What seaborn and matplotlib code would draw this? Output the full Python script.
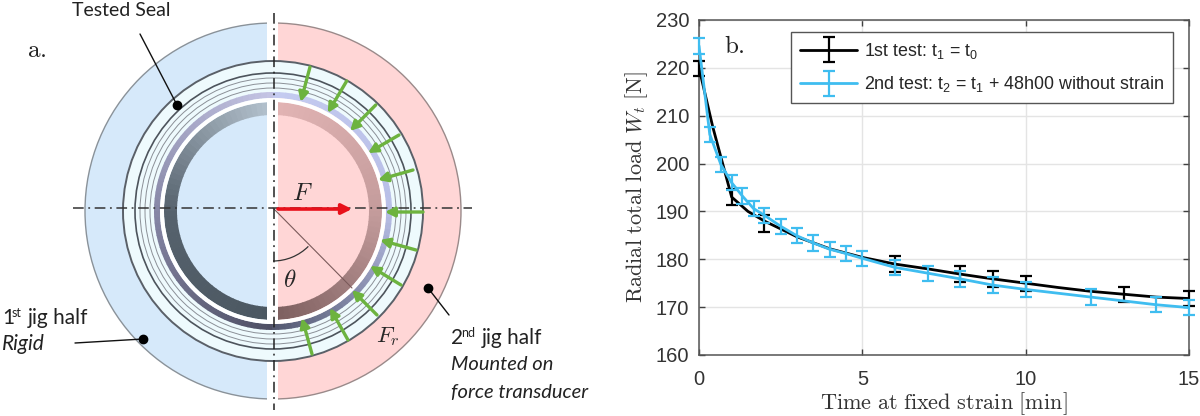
import numpy as np
import pandas as pd
import matplotlib
matplotlib.use('Agg')
import matplotlib.pyplot as plt
from matplotlib.colors import LinearSegmentedColormap
from matplotlib.container import ErrorbarContainer
from matplotlib.legend_handler import HandlerErrorbar
from matplotlib.patches import Wedge, Circle, Rectangle, Arc
import seaborn as sns

# measured values, panel b
test1_curve_time = [0, 0.42, 1, 1.5, 2, 3, 4, 5, 6, 7, 8, 9, 10, 11, 12, 13, 14, 15]
test1_curve_load = [220, 207.7, 193, 190, 188, 184.7, 182.2, 180.4, 179, 178, 176.9, 175.9, 175, 174.1, 173.3, 172.7, 172.1, 171.8]
test1_bar_time = [0, 1, 2, 6, 8, 9, 10, 13, 15]
test1_bar_load = [219.9, 193, 187.5, 179, 176.9, 175.9, 175, 172.7, 171.8]
test1_bar_err = [1.6, 1.6, 1.7, 1.6, 1.6, 1.6, 1.6, 1.6, 1.6]

test2_time = [0, 0.33, 0.67, 1, 1.33, 1.67, 2, 2.5, 3, 3.5, 4, 4.5, 5, 6, 7, 8, 9, 10, 12, 14, 15]
test2_load = [224.6, 206.1, 199.8, 196, 193.2, 190.6, 189.2, 186.9, 184.9, 183.4, 182.1, 181.2, 180.2, 178.3, 177.1, 175.9, 174.6, 173.7, 172.1, 170.5, 169.9]
test2_err = [1.6] * len(test2_time)

x_ticks = [0, 5, 10, 15]
y_ticks = [160, 170, 180, 190, 200, 210, 220, 230]

# schematic geometry, panel a (pixel coordinates of the figure)
seal_lines = [133, 128, 123]
green_arrows = [
    (310, 67, 300.7, 102), (346.7, 81, 327.7, 113), (375.7, 105, 350, 131),
    (399, 135, 368, 153), (413, 170, 378, 180), (423, 212, 385, 212),
    (416, 250, 380, 240), (401, 285, 370, 266), (377, 315, 352, 290),
    (348, 340, 330, 308), (312, 354, 302, 318),
]

BLUE = '#3fbdf0'
CX, CY = 273, 211

sns.set_style('white')
plt.rcParams['font.family'] = ['Liberation Sans', 'DejaVu Sans']
plt.rcParams['mathtext.fontset'] = 'custom'
plt.rcParams['mathtext.rm'] = 'Liberation Sans'
plt.rcParams['mathtext.it'] = 'Liberation Sans:italic'

fig = plt.figure(figsize=(12, 4.16), dpi=100)

# ---- panel a
sk = fig.add_axes([0, 0, 1, 1])
sk.set_xlim(0, 1200)
sk.set_ylim(416, 0)
sk.axis('off')


def half_wedge(r, theta1, theta2, width, color, clip=None, z=1, edge='none', lw=0):
    w = Wedge((CX, CY), r, theta1, theta2, width=width, facecolor=color, edgecolor=edge, linewidth=lw, zorder=z)
    sk.add_patch(w)
    if clip is not None:
        w.set_clip_path(Rectangle((clip[0], 0), clip[1] - clip[0], 416, transform=sk.transData))
    return w


def shaded_ring(r, width, start, stop, colors, clip=None, z=3):
    # ring drawn piece by piece so the shading runs round it
    cmap = LinearSegmentedColormap.from_list('ring', colors)
    angles = np.arange(start, stop, 3)
    for i, a in enumerate(angles):
        half_wedge(r, a, a + 3.4, width, cmap(i / max(len(angles) - 1, 1)), clip=clip, z=z)


# y axis points down in pixel coords, so angles run clockwise on screen
half_wedge(188, 90, 270, None, '#d6e9fa', clip=(0, 267), edge='#8a9299', lw=1)
half_wedge(188, -90, 90, None, '#ffd6d6', clip=(278, 1200), edge='#9a8a8a', lw=1)

shaded_ring(109, 13, 90, 270, ['#4b5761', '#56626d', '#b4c2ce'], clip=(0, 267))
shaded_ring(109, 13, -90, 90, ['#e2b4b4', '#c49c9c', '#7d5f5f'], clip=(278, 1200))

# seal
half_wedge(150, 0, 360, 37, '#eefafd', z=4)
for r in seal_lines:
    sk.add_patch(Circle((CX, CY), r, fill=False, edgecolor='#8b9097', linewidth=0.7, zorder=5))
sk.add_patch(Circle((CX, CY), 150, fill=False, edgecolor='#5a6068', linewidth=1.4, zorder=5))
sk.add_patch(Circle((CX, CY), 138, fill=False, edgecolor='#4d545c', linewidth=1.2, zorder=5))
shaded_ring(119, 6, 90, 270, ['#4e4f64', '#8787a6', '#c4c4e4'], z=5)
shaded_ring(119, 6, -90, 90, ['#c4cbf0', '#b8bee6', '#555a72'], z=5)
half_wedge(113, 0, 360, 4, '#ffffff', z=5)

sk.plot([273.5, 273.5], [13, 410], color='#222222', lw=1.1, ls=(0, (7, 3, 1.2, 3)), zorder=7)
sk.plot([73, 472], [208, 208], color='#333333', lw=1.1, ls=(0, (7, 3, 1.2, 3)), zorder=7)

sk.plot([273, 352], [208, 288], color='#7a5a5a', lw=0.8, zorder=6)
sk.add_patch(Arc((273, 211), 100, 100, angle=0, theta1=45, theta2=90, color='#333333', lw=0.9, zorder=6))

for x0, y0, x1, y1 in green_arrows:
    sk.annotate('', xy=(x1, y1), xytext=(x0, y0), zorder=8,
                arrowprops=dict(arrowstyle='-|>,head_width=0.28,head_length=0.55', color='#6db33f', lw=2.4,
                                shrinkA=0, shrinkB=0))
sk.annotate('', xy=(352, 209), xytext=(278, 209), zorder=8,
            arrowprops=dict(arrowstyle='-|>,head_width=0.3,head_length=0.6', color='#e8101a', lw=2.6,
                            shrinkA=0, shrinkB=0))

# leaders
for x0, y0, x1, y1 in [(140, 34, 177, 105), (75, 343, 143, 339), (449, 315, 428, 288)]:
    sk.plot([x0, x1], [y0, y1], color='#111111', lw=1, zorder=8)
    sk.plot([x1], [y1], 'o', color='black', ms=6, zorder=9)

sans = ['Lato', 'DejaVu Sans']
sk.text(72, 10, 'Tested Seal', family=sans, fontsize=14, va='center', color='#222222')
sk.text(2, 318, '1', family=sans, fontsize=15, va='center', color='#222222')
sk.text(12, 313, 'st', family=sans, fontsize=9, va='center', color='#222222')
sk.text(28, 318, 'jig half', family=sans, fontsize=15, va='center', color='#222222')
sk.text(2, 344, 'Rigid', family=sans, fontsize=15, style='italic', va='center', color='#222222')
sk.text(451, 338, '2', family=sans, fontsize=15, va='center', color='#222222')
sk.text(461, 333, 'nd', family=sans, fontsize=9, va='center', color='#222222')
sk.text(482, 338, 'jig half', family=sans, fontsize=15, va='center', color='#222222')
sk.text(451, 365, 'Mounted on', family=sans, fontsize=14.5, style='italic', va='center', color='#222222')
sk.text(451, 392, 'force transducer', family=sans, fontsize=14.5, style='italic', va='center', color='#222222')

sk.text(27, 50, r'$\mathrm{a.}$', math_fontfamily='cm', fontsize=18, va='center', color='#222222')
sk.text(302, 193, r'$F$', math_fontfamily='cm', fontsize=18, ha='center', va='center', zorder=9)
sk.text(290, 280, r'$\theta$', math_fontfamily='cm', fontsize=18, ha='center', va='center', zorder=9)
sk.text(388, 337, r'$F_r$', math_fontfamily='cm', fontsize=16.5, ha='center', va='center', zorder=9)

# ---- panel b
ax = fig.add_axes([699 / 1200, (416 - 355) / 416, 490 / 1200, 335 / 416])
ax.patch.set_alpha(0)

curve1 = pd.DataFrame({'time': test1_curve_time, 'load': test1_curve_load})
curve2 = pd.DataFrame({'time': test2_time, 'load': test2_load})

sns.lineplot(data=curve1, x='time', y='load', color='black', lw=2, ax=ax, zorder=3)
ax.errorbar(test1_bar_time, test1_bar_load, yerr=test1_bar_err, fmt='none', ecolor='black',
            elinewidth=1.6, capsize=4.3, capthick=1.6, zorder=3, clip_on=False)
sns.lineplot(data=curve2, x='time', y='load', color=BLUE, lw=2, ax=ax, zorder=4)
ax.errorbar(test2_time, test2_load, yerr=test2_err, fmt='none', ecolor=BLUE,
            elinewidth=1.6, capsize=4.3, capthick=1.6, zorder=4, clip_on=False)

ax.set_xlim(0, 15)
ax.set_ylim(160, 230)
ax.set_xticks(x_ticks)
ax.set_yticks(y_ticks)
ax.grid(True, color='#e4e4e4', lw=1)
ax.set_axisbelow(True)
ax.tick_params(direction='in', length=4, width=1, color='#404040', labelcolor='#333333', labelsize=14.5,
               top=True, right=True, bottom=True, left=True, pad=7)
ax.tick_params(axis='x', pad=11)
for s in ax.spines.values():
    s.set_visible(True)
    s.set_color('#555555')
    s.set_linewidth(1.1)

ax.set_xlabel(r'$\mathrm{Time\ at\ fixed\ strain\ [min]}$', math_fontfamily='cm', fontsize=16, color='#333333')
ax.set_ylabel(r'$\mathrm{Radial\ total\ load}\ W_t\ \mathrm{[N]}$', math_fontfamily='cm', fontsize=16, color='#333333')
ax.xaxis.set_label_coords(0.5, -0.105)
ax.yaxis.set_label_coords(-0.1, 0.5)

# legend keys: nan points so only the handles show up
h1 = ax.errorbar([np.nan], [np.nan], yerr=[1], fmt='-', color='black', lw=2, elinewidth=1.6, capsize=4.3, capthick=1.6)
h2 = ax.errorbar([np.nan], [np.nan], yerr=[1], fmt='-', color=BLUE, lw=2, elinewidth=1.6, capsize=4.3, capthick=1.6)
ax.set_xlim(0, 15)
ax.set_ylim(160, 230)
ax.legend([h1, h2], [r'1st test: t$_1$ = t$_0$', r'2nd test: t$_2$ = t$_1$ + 48h00 without strain'],
          loc='upper left', bbox_to_anchor=(791 / 1200, (416 - 32) / 416), bbox_transform=fig.transFigure,
          fontsize=12.9, fancybox=False, framealpha=1, edgecolor='#555555', borderaxespad=0,
          handlelength=3.2, labelspacing=0.75, borderpad=0.5, handletextpad=0.35,
          handler_map={ErrorbarContainer: HandlerErrorbar(yerr_size=0.7)})

fig.text(724 / 1200, (416 - 46) / 416, r'$\mathrm{b.}$', math_fontfamily='cm', fontsize=18, va='center', color='#222222')

fig.savefig('out.png', dpi=100)
